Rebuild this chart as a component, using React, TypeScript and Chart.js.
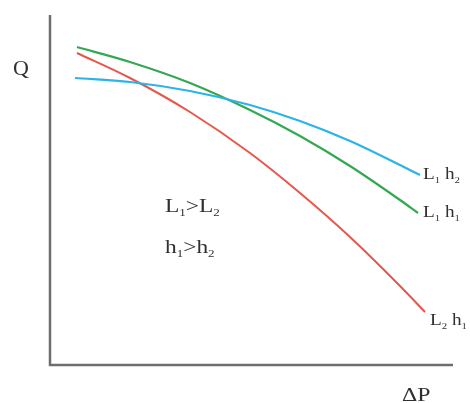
import React, { useEffect, useRef } from "react";
import { Chart, registerables } from "chart.js";

Chart.register(...registerables);

// ΔP (x) values and Q (y) values (arbitrary units)
const greenX = [27, 80, 140, 200, 250, 300, 350, 368];
const greenY = [318, 303, 282, 255, 229, 199, 165, 152];
const blueX = [25, 80, 140, 200, 250, 300, 350, 370];
const blueY = [287, 283, 274, 260, 244, 224, 200, 190];
const redX = [27, 80, 140, 200, 250, 300, 350, 375];
const redY = [312, 287, 253, 212, 172, 128, 79, 53];

const seriesNames = ["L1 h2", "L1 h1", "L2 h1"];
const xTitle = "ΔP";
const yTitle = "Q";

const FONT = '"Liberation Serif", "Times New Roman", serif';
const TEXT = "#303030";

type Part = [string, boolean];

function drawRich(ctx: CanvasRenderingContext2D, x: number, y: number, parts: Part[], size: number, sx: number) {
  ctx.save();
  ctx.translate(x, y);
  ctx.scale(sx, 1);
  ctx.fillStyle = TEXT;
  ctx.textBaseline = "alphabetic";
  ctx.textAlign = "left";
  let cx = 0;
  for (const [t, sub] of parts) {
    const fs = sub ? Math.round(size * 0.55) : size;
    ctx.font = `${fs}px ${FONT}`;
    ctx.fillText(t, cx, sub ? size * 0.22 : 0);
    cx += ctx.measureText(t).width;
  }
  ctx.restore();
}

function zip(xs: number[], ys: number[]) {
  return xs.map((x, i) => ({ x, y: ys[i] }));
}

export default function App() {
  const ref = useRef<HTMLCanvasElement | null>(null);
  useEffect(() => {
    if (!ref.current) return;
    const axesPlugin = {
      id: "axesAndText",
      afterDatasetsDraw(chart: any) {
        const { ctx, chartArea } = chart;
        const xs = chart.scales.x;
        const ys = chart.scales.y;
        ctx.save();
        ctx.strokeStyle = "#6e6e6e";
        ctx.lineWidth = 2.5;
        ctx.beginPath();
        ctx.moveTo(chartArea.left, chartArea.top);
        ctx.lineTo(chartArea.left, chartArea.bottom);
        ctx.lineTo(chartArea.right, chartArea.bottom);
        ctx.stroke();
        ctx.restore();

        // axis titles
        drawRich(ctx, chartArea.left - 37, 75, [[yTitle, false]], 20, 1.1);
        drawRich(ctx, chartArea.right - 51, chartArea.bottom + 36, [[xTitle, false]], 19, 1.25);

        // inside notes
        drawRich(ctx, xs.getPixelForValue(115), ys.getPixelForValue(153),
          [["L", false], ["1", true], [">L", false], ["2", true]], 18, 1.3);
        drawRich(ctx, xs.getPixelForValue(115), ys.getPixelForValue(112),
          [["h", false], ["1", true], [">h", false], ["2", true]], 18, 1.3);

        // series labels at line ends
        const labels: [number, number, Part[], number, number][] = [
          [blueX[blueX.length - 1], blueY[blueY.length - 1], [["L", false], ["1", true], [" h", false], ["2", true]], 3, 4],
          [greenX[greenX.length - 1], greenY[greenY.length - 1], [["L", false], ["1", true], [" h", false], ["1", true]], 5, 4],
          [redX[redX.length - 1], redY[redY.length - 1], [["L", false], ["2", true], [" h", false], ["1", true]], 5, 13],
        ];
        for (const [lx, ly, parts, dx, dy] of labels) {
          drawRich(ctx, xs.getPixelForValue(lx) + dx, ys.getPixelForValue(ly) + dy, parts, 16, 1.2);
        }
      },
    };
    const chart = new Chart(ref.current, {
      type: "line",
      data: {
        datasets: [
          { label: seriesNames[0], data: zip(blueX, blueY), borderColor: "#2cb4e6", borderWidth: 2.2 },
          { label: seriesNames[1], data: zip(greenX, greenY), borderColor: "#33a852", borderWidth: 2.2 },
          { label: seriesNames[2], data: zip(redX, redY), borderColor: "#e5574b", borderWidth: 2 },
        ].map((d) => ({ ...d, pointRadius: 0, fill: false, cubicInterpolationMode: "monotone" as const })),
      },
      options: {
        animation: false,
        responsive: false,
        devicePixelRatio: 1,
        layout: { padding: { left: 50, top: 15, right: 17, bottom: 38 } },
        plugins: { legend: { display: false }, tooltip: { enabled: false } },
        scales: {
          x: { type: "linear", min: 0, max: 403, display: false },
          y: { type: "linear", min: 0, max: 350, display: false },
        },
      },
      plugins: [axesPlugin],
    });
    return () => chart.destroy();
  }, []);
  return (
    <div style={{ position: "absolute", left: 0, top: 0, width: 470, height: 403, background: "#fff" }}>
      <canvas ref={ref} width={470} height={403} style={{ display: "block", width: 470, height: 403 }} />
    </div>
  );
}
